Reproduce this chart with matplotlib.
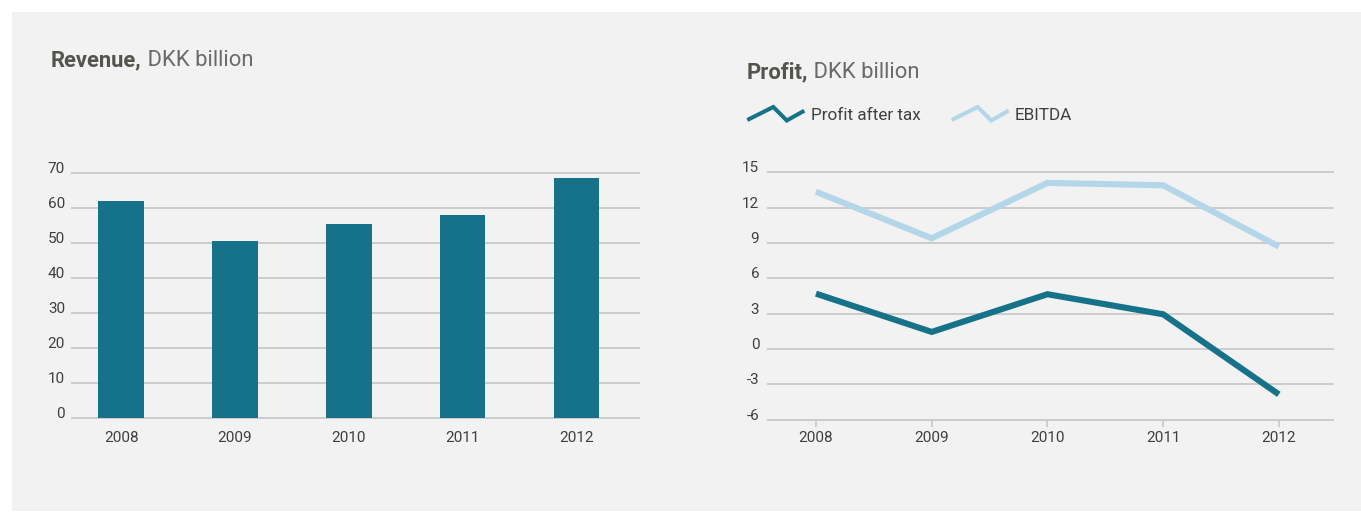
import matplotlib
matplotlib.use("Agg")
import matplotlib.pyplot as plt
from matplotlib.patches import Rectangle
from matplotlib.lines import Line2D

# ---------------- data ----------------
years = ["2008", "2009", "2010", "2011", "2012"]
revenue = [62.0, 50.6, 55.4, 58.1, 68.7]
profit_after_tax = [4.7, 1.45, 4.65, 2.95, -3.85]
ebitda = [13.35, 9.4, 14.1, 13.9, 8.7]

rev_ticks = [0, 10, 20, 30, 40, 50, 60, 70]
rev_tick_labels = ["0", "10", "20", "30", "40", "50", "60", "70"]
profit_ticks = [-6, -3, 0, 3, 6, 9, 12, 15]
profit_tick_labels = ["-6", "-3", "0", "3", "6", "9", "12", "15"]

left_title_bold = "Revenue,"
right_title_bold = "Profit,"
title_unit = " DKK billion"
legend_labels = ["Profit after tax", "EBITDA"]

# ---------------- style ----------------
plt.rcParams['font.family'] = ['Roboto', 'DejaVu Sans']
W, H = 1361, 513
DARK = "#157288"
LIGHT = "#b3d6e8"
GRID = "#c8c8c8"
PANEL = "#f2f2f2"
TXT = "#3f3f3f"
TITLE_B = "#55534d"
TITLE_R = "#6a6a6a"
TICK_FS = 11

fig = plt.figure(figsize=(W / 100, H / 100), dpi=100)
fig.patch.set_facecolor("white")

def fx(px):
    return px / W

def fy(py):
    return 1 - py / H

# background panel
fig.patches.append(Rectangle((fx(12), fy(511)), fx(W - 12), (511 - 12) / H,
                             transform=fig.transFigure, facecolor=PANEL,
                             edgecolor="none", zorder=-10))

# ---------------- left: revenue bars ----------------
axL = fig.add_axes([fx(72), fy(418.3), (639 - 72) / W, 245 / H], zorder=2)
axL.set_facecolor("none")
xpos = list(range(len(years)))
axL.bar(xpos, revenue, width=0.40, color=DARK, zorder=2)
axL.set_xlim(-0.432, 4.55)
axL.set_ylim(0, 70)
for t in rev_ticks:
    axL.axhline(t, color=GRID, lw=1.3, zorder=1, clip_on=False)
axL.set_yticks(rev_ticks)
axL.set_yticklabels(rev_tick_labels)
axL.set_xticks(xpos)
axL.set_xticklabels(years)
axL.tick_params(axis="y", length=0, pad=5, labelsize=TICK_FS, labelcolor=TXT)
axL.tick_params(axis="x", length=0, pad=9.4, labelsize=TICK_FS, labelcolor=TXT)
for lab in axL.get_yticklabels():
    lab.set_va("baseline")
for s in axL.spines.values():
    s.set_visible(False)

# ---------------- right: profit lines ----------------
axR = fig.add_axes([fx(768.3), fy(419.7), (1333 - 768.3) / W, 247.4 / H], zorder=2)
axR.set_facecolor("none")
axR.plot(xpos, ebitda, color=LIGHT, lw=4.4, zorder=3,
         solid_joinstyle="miter", solid_capstyle="butt")
axR.plot(xpos, profit_after_tax, color=DARK, lw=4.4, zorder=4,
         solid_joinstyle="miter", solid_capstyle="butt")
axR.set_xlim(-0.412, 4.468)
axR.set_ylim(-6, 15)
for t in profit_ticks:
    axR.axhline(t, color=GRID, lw=1.3, zorder=1, clip_on=False)
axR.set_yticks(profit_ticks)
axR.set_yticklabels(profit_tick_labels)
axR.set_xticks(xpos)
axR.set_xticklabels(years)
axR.tick_params(axis="y", length=0, pad=6.5, labelsize=TICK_FS, labelcolor=TXT)
axR.tick_params(axis="x", length=5, width=1.2, color=GRID, pad=3.4,
                labelsize=TICK_FS, labelcolor=TXT)
for lab in axR.get_yticklabels():
    lab.set_va("baseline")
for s in axR.spines.values():
    s.set_visible(False)

# ---------------- titles ----------------
renderer = fig.canvas.get_renderer()

def two_part_title(x_px, base_px, bold, regular, size):
    t1 = fig.text(fx(x_px), fy(base_px), bold, fontsize=size, fontweight="bold",
                  color=TITLE_B, va="baseline", ha="left")
    bb = t1.get_window_extent(renderer=renderer)
    fig.text(bb.x1 / W, fy(base_px), regular, fontsize=size, color=TITLE_R,
             va="baseline", ha="left")

two_part_title(51, 66.5, left_title_bold, title_unit, 15.8)
two_part_title(747, 78, right_title_bold, title_unit, 15.8)

# ---------------- legend ----------------
def zigzag(x0, color):
    xs = [x0, x0 + 26, x0 + 39.5, x0 + 57]
    ys = [120, 107, 120.5, 110.7]
    fig.add_artist(Line2D([fx(x) for x in xs], [fy(y) for y in ys],
                          transform=fig.transFigure, color=color, lw=2.9,
                          solid_joinstyle="miter", solid_capstyle="butt"))

zigzag(747.3, DARK)
fig.text(fx(811), fy(119.5), legend_labels[0], fontsize=12.3, color=TXT,
         va="baseline", ha="left")
zigzag(951.7, LIGHT)
fig.text(fx(1015), fy(119.5), legend_labels[1], fontsize=12.3, color=TXT,
         va="baseline", ha="left")

fig.savefig("out.png", dpi=100, facecolor=fig.get_facecolor())
